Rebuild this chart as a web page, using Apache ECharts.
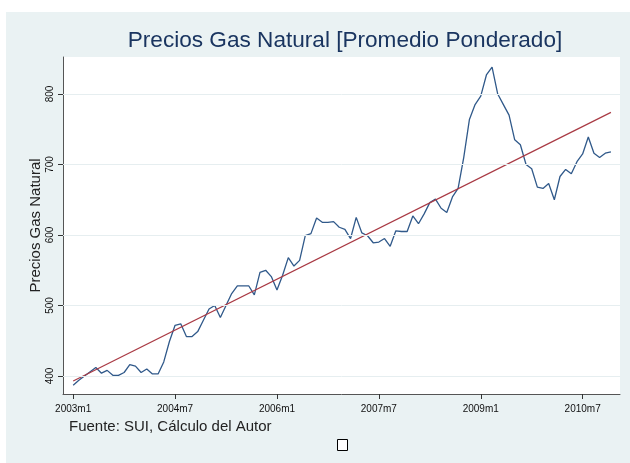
<!DOCTYPE html>
<html>
<head>
<meta charset="utf-8">
<script src="https://cdn.jsdelivr.net/npm/echarts@6/dist/echarts.min.js"></script>
<style>
	html, body { margin: 0; padding: 0; background: #fff; }
	#bg { position: absolute; left: 6px; top: 12px; width: 624px; height: 451px; background: #eaf2f3; }
	#chart { position: absolute; left: 0; top: 0; width: 630px; height: 463px; }
</style>
</head>
<body>
<div id="bg"></div>
<div id="chart"></div>
<script>
	// monthly index, 0 = 2003m1 ... 95 = 2010m12
	var precios = [
		387, 394, 400, 406, 412, 404, 408, 401, 401, 405, 416, 414,
		405, 410, 403, 403, 420, 449, 472, 474, 456, 456, 463, 479,
		495, 500, 483, 500, 517, 528, 528, 528, 515, 547, 550, 541,
		522, 543, 568, 556, 564, 599, 602, 624, 618, 618, 619, 611,
		608, 595, 625, 603, 599, 589, 590, 595, 584, 606, 605, 605,
		627, 616, 630, 646, 651, 638, 632, 654, 666, 710, 764, 785,
		797, 827, 838, 800, 785, 770, 735, 728, 700, 694, 668, 666,
		673, 650, 683, 693, 687, 704, 715, 739, 716, 710, 716, 718
	];
	// linear fit, read at first and last month
	var ajusteMes = [0, 95];
	var ajusteValor = [393, 774];

	var xTicks = [0, 18, 36, 54, 72, 90];
	var xTickLabels = ['2003m1', '2004m7', '2006m1', '2007m7', '2009m1', '2010m7'];
	var yTicks = [400, 500, 600, 700, 800];

	var serieDatos = precios.map(function (v, i) { return [i, v]; });
	var serieAjuste = ajusteMes.map(function (m, i) { return [m, ajusteValor[i]]; });

	var myChart = echarts.init(document.getElementById('chart'));
	myChart.setOption({
		backgroundColor: 'transparent',
		animation: false,
		title: {
			text: 'Precios Gas Natural [Promedio Ponderado]',
			left: 340,
			textAlign: 'center',
			top: 24,
			textStyle: { fontFamily: 'Liberation Sans', fontSize: 22.6, fontWeight: 'normal', color: '#1a3560' }
		},
		grid: {
			left: 63, right: 10, top: 57, bottom: 69,
			show: true, backgroundColor: '#ffffff', borderWidth: 0
		},
		xAxis: {
			type: 'value',
			min: -1.8,
			max: 96.6,
			axisLine: { show: true, onZero: false, lineStyle: { color: '#555', width: 1 } },
			axisTick: { show: true, customValues: xTicks, length: 5, lineStyle: { color: '#333' } },
			axisLabel: {
				customValues: xTicks,
				margin: 10,
				fontFamily: 'Liberation Sans',
				fontSize: 10,
				color: '#111',
				formatter: function (v) { return xTickLabels[xTicks.indexOf(v)]; }
			},
			splitLine: { show: false }
		},
		yAxis: {
			type: 'value',
			min: 374.5,
			max: 852.5,
			name: 'Precios Gas Natural',
			nameLocation: 'middle',
			nameGap: 20,
			nameMoveOverlap: false,
			nameTextStyle: { fontFamily: 'Liberation Sans', fontSize: 15, color: '#222' },
			axisLine: { show: true, onZero: false, lineStyle: { color: '#555', width: 1 } },
			axisTick: { show: true, customValues: yTicks, length: 5, lineStyle: { color: '#333' } },
			axisLabel: {
				customValues: yTicks,
				rotate: 90,
				margin: 8,
				fontFamily: 'Liberation Sans',
				fontSize: 10,
				color: '#111'
			},
			splitLine: { show: false }
		},
		graphic: [
			{
				type: 'text',
				left: 69,
				top: 419,
				style: { text: 'Fuente: SUI, Cálculo del Autor', font: '15px "Liberation Sans"', fill: '#222' }
			},
			{
				type: 'rect',
				left: 337,
				top: 439,
				shape: { width: 10, height: 11 },
				style: { fill: '#fff', stroke: '#000', lineWidth: 1 }
			}
		],
		series: [
			{
				name: 'grid',
				type: 'line',
				data: [],
				z: 1,
				silent: true,
				markLine: {
					silent: true,
					symbol: 'none',
					label: { show: false },
					lineStyle: { color: '#e6eef0', width: 1, type: 'solid' },
					data: yTicks.map(function (t) { return { yAxis: t }; })
				}
			},
			{
				name: 'Precios',
				type: 'line',
				data: serieDatos,
				showSymbol: false,
				z: 3,
				lineStyle: { color: '#30598a', width: 1.3 }
			},
			{
				name: 'Ajuste',
				type: 'line',
				data: serieAjuste,
				showSymbol: false,
				z: 4,
				lineStyle: { color: '#a93a44', width: 1.2 }
			}
		]
	});
</script>
</body>
</html>
